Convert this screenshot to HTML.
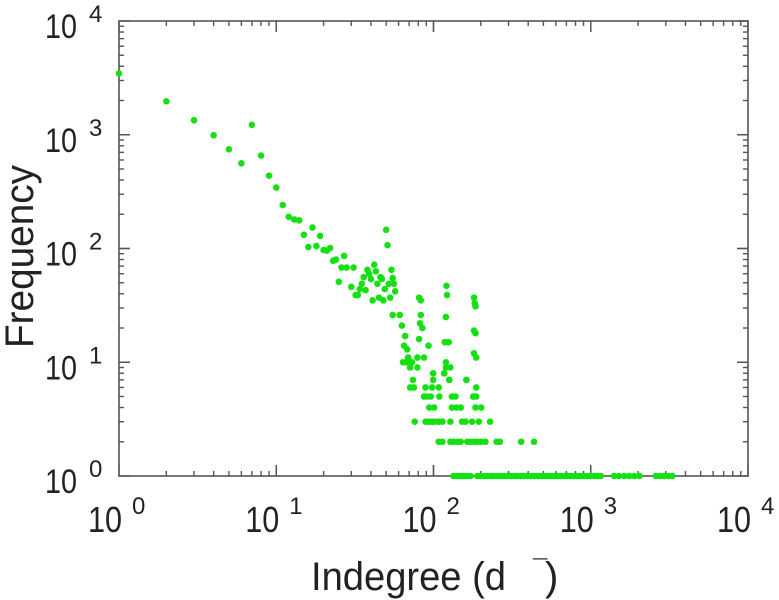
<!DOCTYPE html>
<html><head><meta charset="utf-8"><style>
html,body{margin:0;padding:0;background:#fff;}
svg{display:block;font-family:"Liberation Sans",sans-serif;}
</style></head><body>
<svg id="chart" width="779" height="600" viewBox="0 0 779 600" xmlns="http://www.w3.org/2000/svg">
<g id="ticks"></g>
<rect x="119" y="21" width="629" height="455" fill="none" stroke="#555" stroke-width="1.6"/>
<g id="xlabels"></g>
<g id="ylabels"></g>
<g id="points"></g>
<g fill="#222">
<text x="311" y="590" font-size="40" textLength="195" lengthAdjust="spacingAndGlyphs">Indegree (d</text>
<text x="533" y="578" font-size="26">¯</text>
<text x="545" y="590" font-size="40">)</text>
</g>
<text transform="translate(33,348) rotate(-90)" font-size="40" fill="#222" textLength="183" lengthAdjust="spacingAndGlyphs">Frequency</text>
</svg>
<script>
const xDecades = [0, 1, 2, 3, 4];
const yDecades = [0, 1, 2, 3, 4];
const xTickLabels = ["0", "1", "2", "3", "4"];
const yTickLabels = ["0", "1", "2", "3", "4"];
const degrees = [1,2,3,4,5,6,7,8,9,10,11,12,13,14,15,16,17,18,19,20,21,22,23,24,25,26,27,28,30,31,32,33,34,35,36,37,38,39,40,41,42,43,44,45,46,47,48,49,50,51,52,53,54,55,56,57,55,61,
63,66,65,68,67,69,81,83,83,82,85,81,93,69,79,87,64,73,71,79,75,71,89,98,108,74,99.5,126,162,99.5,117,87,91,96,109,94,101,76,89,93,98,102,108,114,
121,122,120,118,125,120,120,128,117,126,
181,183,185,181,185,181,187,187,179,187,162,
131,138,179,131,140,149,185,201,128,152,160,176,194,229,
108,114,128,134,142,149,164,172,181,190,201,214,252,264,361,436,
134,140,145,150,156,164,172,190,199,209,220,231,242,254,267,280,294,309,325,341,358,376,395,415,436,458,481,505,530,557,585,614,645,677,711,746,784,823,864,908,953,1001,1051,1104,1159,1409,1510,1635,1760,1893,2040,2600,2760,2930,3120,3300];
const freqs = [3460,1970,1340,990,745,561,1220,656,437,343,241,190,180,177,132,103,153,105,129,97,96,101,78,80,51,68,86,68,46,68,39,39,44,49,56,43,65,60,54,35,72,63,49,37,56,54,35,44,146,107,49,37,65,55,49,42,26,26,
21,17,14,13,10,11,37,35,26,22,20,16,14,11,11,11,10,10,9,9,6,6,6,6,6,7,7,7,7,8,8,5,5,5,5,4,4,3,3,3,3,3,3,3,
47,39,25,15,15,10,9,9,8,7,
37,33,31,19,18,12,11,6,5,5,7,
5,5,5,4,4,4,4,4,3,3,3,3,3,3,
2,2,2,2,2,2,2,2,2,2,2,2,2,2,2,2,
1,1,1,1,1,1,1,1,1,1,1,1,1,1,1,1,1,1,1,1,1,1,1,1,1,1,1,1,1,1,1,1,1,1,1,1,1,1,1,1,1,1,1,1,1,1,1,1,1,1,1,1,1,1,1,1];
const NS = "http://www.w3.org/2000/svg";
const X0 = 119, X1 = 748, Y0 = 476, Y1 = 21;
function xs(v){ return X0 + (Math.log10(v) - 0) / 4 * (X1 - X0); }
function ys(v){ return Y0 - (Math.log10(v) - 0) / 4 * (Y0 - Y1); }
function mk(tag, attrs, parent){ const e = document.createElementNS(NS, tag); for (const k in attrs) e.setAttribute(k, attrs[k]); parent.appendChild(e); return e; }
const tg = document.getElementById('ticks');
for (let d = 0; d < 4; d++) {
  for (let m = 1; m <= 10; m++) {
    const v = m * Math.pow(10, d);
    const len = (m === 1 || m === 10) ? 11 : 5;
    const x = xs(v), y = ys(v);
    const t1 = mk('line', {x1:x, x2:x, y1:Y0, y2:Y0-len, stroke:'#555', 'stroke-width':1.4}, tg);
    
    
    const t2 = mk('line', {x1:x, x2:x, y1:Y1, y2:Y1+len, stroke:'#555', 'stroke-width':1.4}, tg);
    
    
    const t3 = mk('line', {x1:X0, x2:X0+len, y1:y, y2:y, stroke:'#555', 'stroke-width':1.4}, tg);
    
    
    const t4 = mk('line', {x1:X1, x2:X1-len, y1:y, y2:y, stroke:'#555', 'stroke-width':1.4}, tg);
    
    
  }
}
const xl = document.getElementById('xlabels');
xDecades.forEach((d, i) => {
  const x = xs(Math.pow(10, d));
  const t = mk('text', {x:x-31, y:532, 'font-size':36, fill:'#222', textLength:34, lengthAdjust:'spacingAndGlyphs'}, xl);
  t.textContent = '10';
  
  
  const s = mk('text', {x:x+13, y:514, 'font-size':24, fill:'#222'}, xl);
  s.textContent = xTickLabels[i];
  
  
});
const yl = document.getElementById('ylabels');
yDecades.forEach((d, i) => {
  const y = ys(Math.pow(10, d));
  const t = mk('text', {x:45, y:y+17, 'font-size':34, fill:'#222', textLength:32, lengthAdjust:'spacingAndGlyphs'}, yl);
  t.textContent = '10';
  
  
  const s = mk('text', {x:89, y:y+1, 'font-size':24, fill:'#222'}, yl);
  s.textContent = yTickLabels[i];
  
  
});
const pg = document.getElementById('points');
degrees.forEach((d, i) => {
  const c = mk('circle', {cx:xs(d), cy:ys(freqs[i]), r:3.3, fill:'#14e014'}, pg);
  
  
});
</script>
</body></html>
